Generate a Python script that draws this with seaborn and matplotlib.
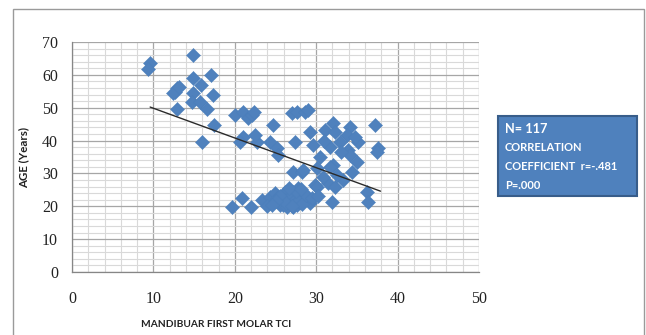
import matplotlib
matplotlib.use("Agg")
import matplotlib.pyplot as plt
import seaborn as sns
import pandas as pd
import numpy as np
from matplotlib.patches import Rectangle
from matplotlib.ticker import MultipleLocator

# ---- data ----
tci = [9.6, 9.3, 14.9, 14.9, 17.1, 15.8, 12.9, 12.7, 12.4, 14.9, 14.7, 15.7, 17.3, 16.6, 12.9, 17.4, 16.0,
       20.0, 21.0, 21.6, 22.1, 21.0, 20.6, 22.7, 22.5, 24.3, 24.7, 25.2, 25.3, 27.4, 27.0, 27.6, 28.6, 29.0,
       27.1, 28.3, 37.2, 32.1, 34.2, 31.1, 29.2, 32.3, 33.8, 29.6, 31.7, 32.9, 35.1, 33.9, 34.2, 37.6, 37.5,
       30.5, 35.0, 32.1, 31.7, 30.1, 28.4, 34.4, 33.3, 31.4, 32.3, 29.9, 27.8, 36.2, 27.1, 28.4, 31.9, 36.4,
       30.8, 28.9, 30.1,
       19.7, 20.9, 22.0, 23.3, 24.3, 24.9, 24.0, 25.6, 26.8, 27.1, 27.6, 25.2, 27.6, 26.2, 26.5, 25.9, 26.8,
       28.0, 27.4, 26.4, 28.6, 29.2, 26.2, 28.0,
       26.0, 26.8, 27.3, 27.9, 28.3, 25.5, 26.3, 27.0, 28.8, 27.5, 26.6, 29.5, 25.0, 24.6, 28.1, 30.2,
       13.2, 22.4, 33.0, 31.0, 34.8, 32.5]
age = [63.6, 61.8, 66.0, 59.0, 60.0, 56.9, 56.0, 54.8, 54.5, 54.5, 51.7, 51.7, 53.9, 49.6, 49.6, 44.7, 39.6,
       47.8, 48.7, 46.9, 47.8, 41.1, 39.6, 39.6, 41.7, 39.6, 44.7, 37.7, 35.6, 39.6, 48.4, 48.7, 48.7, 49.3,
       30.4, 30.4, 44.7, 45.3, 44.1, 43.2, 42.6, 42.6, 41.7, 38.6, 38.0, 39.6, 39.6, 37.1, 35.6, 37.7, 36.5,
       35.0, 33.5, 32.6, 32.0, 31.6, 31.0, 30.4, 28.0, 27.1, 25.9, 26.5, 25.6, 24.3, 24.3, 23.4, 21.3, 21.3,
       28.9, 22.8, 25.9,
       19.8, 22.5, 19.8, 21.9, 22.8, 24.0, 20.0, 20.4, 25.0, 19.8, 22.5, 22.5, 20.4, 21.9, 23.4, 20.4, 21.0,
       21.3, 23.4, 19.8, 21.9, 21.0, 24.3, 24.3,
       22.0, 22.8, 21.5, 22.0, 20.8, 23.0, 20.9, 20.0, 23.5, 24.8, 25.6, 22.5, 21.5, 20.5, 25.2, 23.0,
       56.3, 48.6, 36.5, 40.0, 41.0, 29.5]
trend_x = [9.6, 37.9]
trend_y = [50.2, 24.6]
x_ticks = [0, 10, 20, 30, 40, 50]
y_ticks = [0, 10, 20, 30, 40, 50, 60, 70]
stats_lines = ["N= 117", "CORRELATION", "COEFFICIENT  r=-.481", "P=.000"]

df = pd.DataFrame({"tci": tci, "age": age})

sns.set_theme(style="white")
plt.rcParams["font.family"] = ["DejaVu Sans"]

fig = plt.figure(figsize=(6.46, 3.35), dpi=100)
ax = fig.add_axes([72/646, 63/335, (479-72)/646, (272-42)/335])

# outer chart frame
fig.patches.append(Rectangle((13/646, -0.01), (644-13)/646, (335-8.5)/335 + 0.01, transform=fig.transFigure,
                             fill=False, edgecolor="#9a9a9a", linewidth=1.0))

ax.set_xlim(0, 50)
ax.set_ylim(0, 70)
ax.xaxis.set_major_locator(MultipleLocator(10))
ax.yaxis.set_major_locator(MultipleLocator(10))
ax.xaxis.set_minor_locator(MultipleLocator(2))
ax.yaxis.set_minor_locator(MultipleLocator(2))
ax.grid(which="minor", color="#d9d9d9", linewidth=0.8)
ax.grid(which="major", color="#a6a6a6", linewidth=0.9)
ax.set_axisbelow(True)
for s in ["top", "right"]:
    ax.spines[s].set_visible(False)
for s in ["left", "bottom"]:
    ax.spines[s].set_color("#868686")
    ax.spines[s].set_linewidth(0.9)

sns.scatterplot(data=df, x="tci", y="age", marker="D", s=52, color="#4f81bd",
                edgecolor="#4a7ebb", linewidth=0.3, ax=ax, zorder=3)
sns.lineplot(x=trend_x, y=trend_y, color="#2b2b2b", linewidth=1.0, ax=ax, zorder=4)

ax.set_xticks(x_ticks)
ax.set_yticks(y_ticks)
ax.set_xticklabels([str(v) for v in x_ticks], fontfamily="Liberation Serif", fontsize=11.5, color="#222222")
ax.set_yticklabels([str(v) for v in y_ticks], fontfamily="Liberation Serif", fontsize=11.5, color="#222222")
ax.tick_params(axis="both", which="major", length=4, color="#868686", direction="out", pad=6)
ax.tick_params(axis="x", which="major", pad=10)
ax.tick_params(which="minor", length=0)

ax.set_xlabel("MANDIBUAR FIRST MOLAR TCI", fontfamily="Lato", fontsize=7.3, fontweight="bold",
              color="#222222")
ax.set_ylabel("AGE (Years)", fontfamily="Lato", fontsize=8.3, fontweight="bold", color="#222222")
ax.xaxis.set_label_coords((216 - 72) / (479 - 72), -0.21)
ax.yaxis.set_label_coords(-(72 - 29) / (479 - 72), 0.5)

# stats box
fig.patches.append(Rectangle((498/646, (335-196)/335), (637-498)/646, (196-116)/335,
                             transform=fig.transFigure, facecolor="#4f81bd", edgecolor="#385d8a",
                             linewidth=1.5))
for i, line in enumerate(stats_lines):
    fig.text(505/646, (335-129-i*18.8)/335, line, color="white", fontfamily="Lato",
             fontsize=9.2 if i == 0 else 8.0, fontweight="bold", va="center", ha="left")

fig.savefig("out.png", dpi=100)
